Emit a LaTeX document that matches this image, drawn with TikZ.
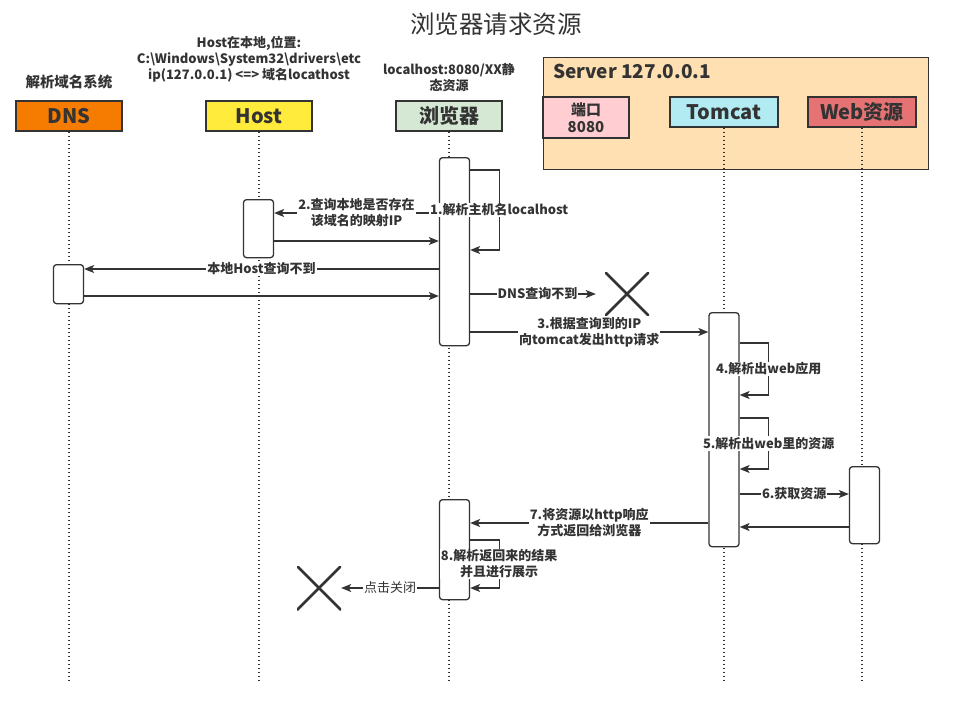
\documentclass[tikz,border=0pt]{standalone}
\usepackage{fontspec}
\setmainfont{Noto Sans CJK SC}
\usetikzlibrary{arrows.meta}
\definecolor{ink}{HTML}{333333}
\definecolor{dnsc}{HTML}{F57C00}
\definecolor{hostc}{HTML}{FFEB3B}
\definecolor{brc}{HTML}{D5E8D4}
\definecolor{server}{HTML}{FFE0B2}
\definecolor{portc}{HTML}{FFCDD2}
\definecolor{tcc}{HTML}{B2EBF2}
\definecolor{webc}{HTML}{E57373}
\begin{document}
\begin{tikzpicture}[
        x=1pt, y=-1pt,
        every node/.style={inner sep=1pt, text=ink, align=center, font=\bfseries\fontsize{13}{16}\selectfont},
        head/.style={draw=ink, line width=1.3pt, minimum width=106pt, minimum height=30pt, inner sep=0pt, font=\bfseries\fontsize{20}{22}\selectfont},
        life/.style={ink, line width=1.5pt, dash pattern=on 1.5pt off 2.5pt},
        act/.style={draw=ink, fill=white, line width=1.3pt, rounded corners=3pt, minimum width=30pt, inner sep=0pt, anchor=north},
        msg/.style={ink, line width=1.3pt, -{Stealth[length=10pt,width=8pt,inset=2.5pt]}},
        lbl/.style={fill=white},
        cross/.style={minimum size=44pt, inner sep=0pt, path picture={
            \draw[ink, line width=2.6pt] (path picture bounding box.north west) -- (path picture bounding box.south east)
                (path picture bounding box.north east) -- (path picture bounding box.south west);}}
    ]
    \useasboundingbox (0,0) rectangle (954,713);

    \node (title) at (496,24) {\mdseries\fontsize{24.5}{28}\selectfont 浏览器请求资源};

    \node[fill=server, draw=ink, line width=1.3pt, minimum width=385pt, minimum height=112pt, anchor=north west] (srv) at (543,57) {};
    \node[anchor=west, font=\bfseries\fontsize{19}{22}\selectfont] (srvname) at (552,71) {Server 127.0.0.1};

    \node[head, fill=dnsc] (dns) at (69,116) {DNS};
    \node[head, fill=hostc] (host) at (259,116) {Host};
    \node[head, fill=brc] (br) at (449,116) {浏览器};
    \node[head, fill=portc, minimum width=86pt, minimum height=41pt, font=\bfseries\fontsize{15}{17}\selectfont] (port) at (586,117.5) {端口\\8080};
    \node[head, fill=tcc, minimum width=108pt] (tc) at (724,112) {Tomcat};
    \node[head, fill=webc, minimum width=108pt] (web) at (862,112) {Web资源};

    \node[font=\bfseries\fontsize{14.5}{16}\selectfont] (dnsnote) at (69,82) {解析域名系统};
    \node (hostnote) at (249,59) {Host在本地,位置:\\C:\textbackslash Windows\textbackslash System32\textbackslash drivers\textbackslash etc\\ip(127.0.0.1) <=> 域名locathost};
    \node (brnote) at (449,78) {localhost:8080/XX静\\态资源};

    \foreach \n in {dns,host,br,tc,web} {
        \draw[life] (\n.south) -- (\n.south |- 0,683);
    }

    \node[act, minimum height=188pt] (brA) at (454.5,157) {};
    \node[act, minimum height=58pt] (hostA) at (258.5,199) {};
    \node[act, minimum height=39pt] (dnsA) at (68.5,264) {};
    \node[act, minimum height=234pt] (tcA) at (724,312) {};
    \node[act, minimum height=77pt] (webA) at (864.5,466) {};
    \node[act, minimum height=100pt] (brB) at (454.5,499) {};

    \draw[msg] (brA.west |- 0,213) -- (hostA.east |- 0,213) node[midway, lbl] (m2) {2.查询本地是否存在\\该域名的映射IP};
    \draw[msg] (hostA.east |- 0,241) -- (brA.west |- 0,241);
    \draw[msg] (brA.east |- 0,170) -- ++(29,0) -- ++(0,80) node[midway, lbl] (m1) {1.解析主机名localhost} -- ++(-29,0);
    \draw[msg] (brA.west |- 0,269) -- (dnsA.east |- 0,269) node[midway, lbl] (m3) {本地Host查询不到};
    \draw[msg] (dnsA.east |- 0,296) -- (brA.west |- 0,296);

    \node[cross] (xdns) at (627,294) {};
    \draw[msg, shorten >=9pt] (brA.east |- 0,294) -- (xdns.west) node[midway, lbl] (mdns) {DNS查询不到};

    \draw[msg] (brA.east |- 0,332) -- (tcA.west |- 0,332) node[midway, lbl] (mtc) {3.根据查询到的IP\\向tomcat发出http请求};
    \draw[msg] (tcA.east |- 0,343) -- ++(29,0) -- ++(0,52) node[midway, lbl] (m4) {4.解析出web应用} -- ++(-29,0);
    \draw[msg] (tcA.east |- 0,418) -- ++(29,0) -- ++(0,51) node[midway, lbl] (m5) {5.解析出web里的资源} -- ++(-29,0);
    \draw[msg] (tcA.east |- 0,494) -- (webA.west |- 0,494) node[midway, lbl] (m6) {6.获取资源};
    \draw[msg] (webA.west |- 0,527) -- (tcA.east |- 0,527);
    \draw[msg] (tcA.west |- 0,523) -- (brB.east |- 0,523) node[midway, lbl] (m7) {7.将资源以http响应\\方式返回给浏览器};
    \draw[msg] (brB.east |- 0,540) -- ++(29,0) -- ++(0,48) node[midway, lbl] (m8) {8.解析返回来的结果\\并且进行展示} -- ++(-29,0);

    \node[cross] (xcl) at (319,588) {};
    \draw[msg] (brB.west |- 0,588) -- (xcl.east) node[midway, lbl, font=\fontsize{13}{16}\selectfont] (mcl) {点击关闭};
\end{tikzpicture}
\end{document}
